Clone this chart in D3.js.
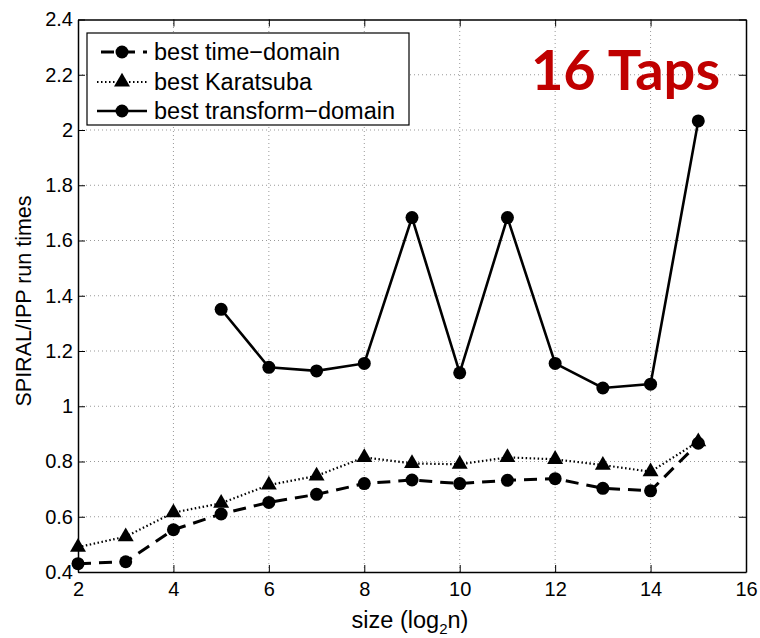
<!DOCTYPE html>
<html><head><meta charset="utf-8">
<script src="https://cdn.jsdelivr.net/npm/d3@7"></script>
<style>body{margin:0;background:#fff}svg{display:block}</style>
</head><body>
<script>
const sizes = [2,3,4,5,6,7,8,9,10,11,12,13,14,15];
const timeDomain = [0.43,0.437,0.553,0.61,0.652,0.681,0.72,0.733,0.72,0.732,0.738,0.703,0.694,0.866];
const karatsuba = [0.49,0.528,0.615,0.649,0.715,0.748,0.815,0.793,0.79,0.815,0.808,0.787,0.763,0.872];
const transformSizes = [5,6,7,8,9,10,11,12,13,14,15];
const transformDomain = [1.351,1.141,1.128,1.155,1.683,1.121,1.683,1.155,1.066,1.08,2.033];
const xTicks = [2,4,6,8,10,12,14,16];
const yTicks = [0.4,0.6,0.8,1,1.2,1.4,1.6,1.8,2,2.2,2.4];
const legendLabels = ["best time\u2212domain","best Karatsuba","best transform\u2212domain"];

const W=760,H=638;
const m={l:78,r:14,t:19.5,b:66};
const svg=d3.select("body").append("svg").attr("width",W).attr("height",H);
const x=d3.scaleLinear().domain([2,16]).range([m.l,W-m.r]);
const y=d3.scaleLinear().domain([0.4,2.4]).range([H-m.b,m.t]);
const font="'Liberation Sans', Arial, Helvetica, sans-serif";

// grid
const g=svg.append("g");
g.selectAll(".gx").data(xTicks.slice(1,-1)).join("line")
 .attr("x1",d=>x(d)).attr("x2",d=>x(d)).attr("y1",y(0.4)).attr("y2",y(2.4))
 .attr("stroke","#999").attr("stroke-width",1).attr("stroke-dasharray","1,3");
g.selectAll(".gy").data(yTicks.slice(1,-1)).join("line")
 .attr("y1",d=>y(d)).attr("y2",d=>y(d)).attr("x1",x(2)).attr("x2",x(16))
 .attr("stroke","#999").attr("stroke-width",1).attr("stroke-dasharray","1,3");

// axes
const fmt=d=>d3.format("")(+d.toFixed(1));
const ax=(a)=>a.tickSizeInner(-7).tickSizeOuter(0).tickPadding(10);
svg.append("g").attr("transform",`translate(0,${y(0.4)})`).call(ax(d3.axisBottom(x).tickValues(xTicks)).tickFormat(d3.format("d")));
svg.append("g").attr("transform",`translate(0,${y(2.4)})`).call(ax(d3.axisTop(x).tickValues(xTicks)).tickFormat(""));
svg.append("g").attr("transform",`translate(${x(2)},0)`).call(ax(d3.axisLeft(y).tickValues(yTicks)).tickFormat(fmt).tickPadding(5));
svg.append("g").attr("transform",`translate(${x(16)},0)`).call(ax(d3.axisRight(y).tickValues(yTicks)).tickFormat(""));
svg.selectAll(".domain").attr("stroke","#000").attr("stroke-width",1.5);
svg.selectAll(".tick line").attr("stroke","#000");
svg.selectAll(".tick text").attr("font-family",font).attr("font-size",20).attr("fill","#000");

// lines
const line=d3.line().x(d=>x(d[0])).y(d=>y(d[1]));
const td=sizes.map((s,i)=>[s,timeDomain[i]]);
const ka=sizes.map((s,i)=>[s,karatsuba[i]]);
const tr=transformSizes.map((s,i)=>[s,transformDomain[i]]);
svg.append("path").attr("d",line(ka)).attr("fill","none").attr("stroke","#000").attr("stroke-width",2.2).attr("stroke-dasharray","1.5,2.5");
svg.append("path").attr("d",line(td)).attr("fill","none").attr("stroke","#000").attr("stroke-width",3).attr("stroke-dasharray","13,8");
svg.append("path").attr("d",line(tr)).attr("fill","none").attr("stroke","#000").attr("stroke-width",2.6);
const tri=d3.symbol().type(d3.symbolTriangle).size(110);
svg.selectAll(".tri").data(ka).join("path").attr("d",tri).attr("transform",d=>`translate(${x(d[0])},${y(d[1])})`).attr("fill","#000");
svg.selectAll(".c1").data(td).join("circle").attr("cx",d=>x(d[0])).attr("cy",d=>y(d[1])).attr("r",6.5).attr("fill","#000");
svg.selectAll(".c2").data(tr).join("circle").attr("cx",d=>x(d[0])).attr("cy",d=>y(d[1])).attr("r",6.5).attr("fill","#000");

// legend
const lg=svg.append("g");
lg.append("rect").attr("x",87).attr("y",33).attr("width",322).attr("height",92).attr("fill","#fff").attr("stroke","#000").attr("stroke-width",1.2);
const ly=[52,82,111];
const styles=[{da:"13,8",w:3,m:"c",off:-4},{da:"1.5,2.5",w:2.2,m:"t",off:0},{da:null,w:2.6,m:"c",off:0}];
legendLabels.forEach((t,i)=>{
  const l=lg.append("line").attr("x1",97).attr("x2",147).attr("y1",ly[i]).attr("y2",ly[i]).attr("stroke","#000").attr("stroke-width",styles[i].w);
  if(styles[i].da) l.attr("stroke-dasharray",styles[i].da).attr("stroke-dashoffset",styles[i].off);
  if(styles[i].m==="c") lg.append("circle").attr("cx",122).attr("cy",ly[i]).attr("r",6.5).attr("fill","#000");
  else lg.append("path").attr("d",tri).attr("transform",`translate(122,${ly[i]})`).attr("fill","#000");
  lg.append("text").attr("x",154).attr("y",ly[i]+8).attr("font-family",font).attr("font-size",23.5).text(t);
});

// title
svg.append("text").attr("x",720).attr("y",90).attr("text-anchor","end").attr("font-family","Lato, 'Open Sans', sans-serif").attr("font-weight","bold").attr("font-size",56).attr("fill","#c00000").text("16 Taps");

// axis labels
const xl=svg.append("text").attr("x",410).attr("y",628).attr("text-anchor","middle").attr("font-family",font).attr("font-size",23.5);
xl.append("tspan").text("size (log");
xl.append("tspan").attr("font-size",15).attr("dy",6).text("2");
xl.append("tspan").attr("dy",-6).text("n)");
svg.append("text").attr("transform",`translate(31,301) rotate(-90)`).attr("text-anchor","middle").attr("font-family",font).attr("font-size",21.5).text("SPIRAL/IPP run times");
</script>
</body></html>
